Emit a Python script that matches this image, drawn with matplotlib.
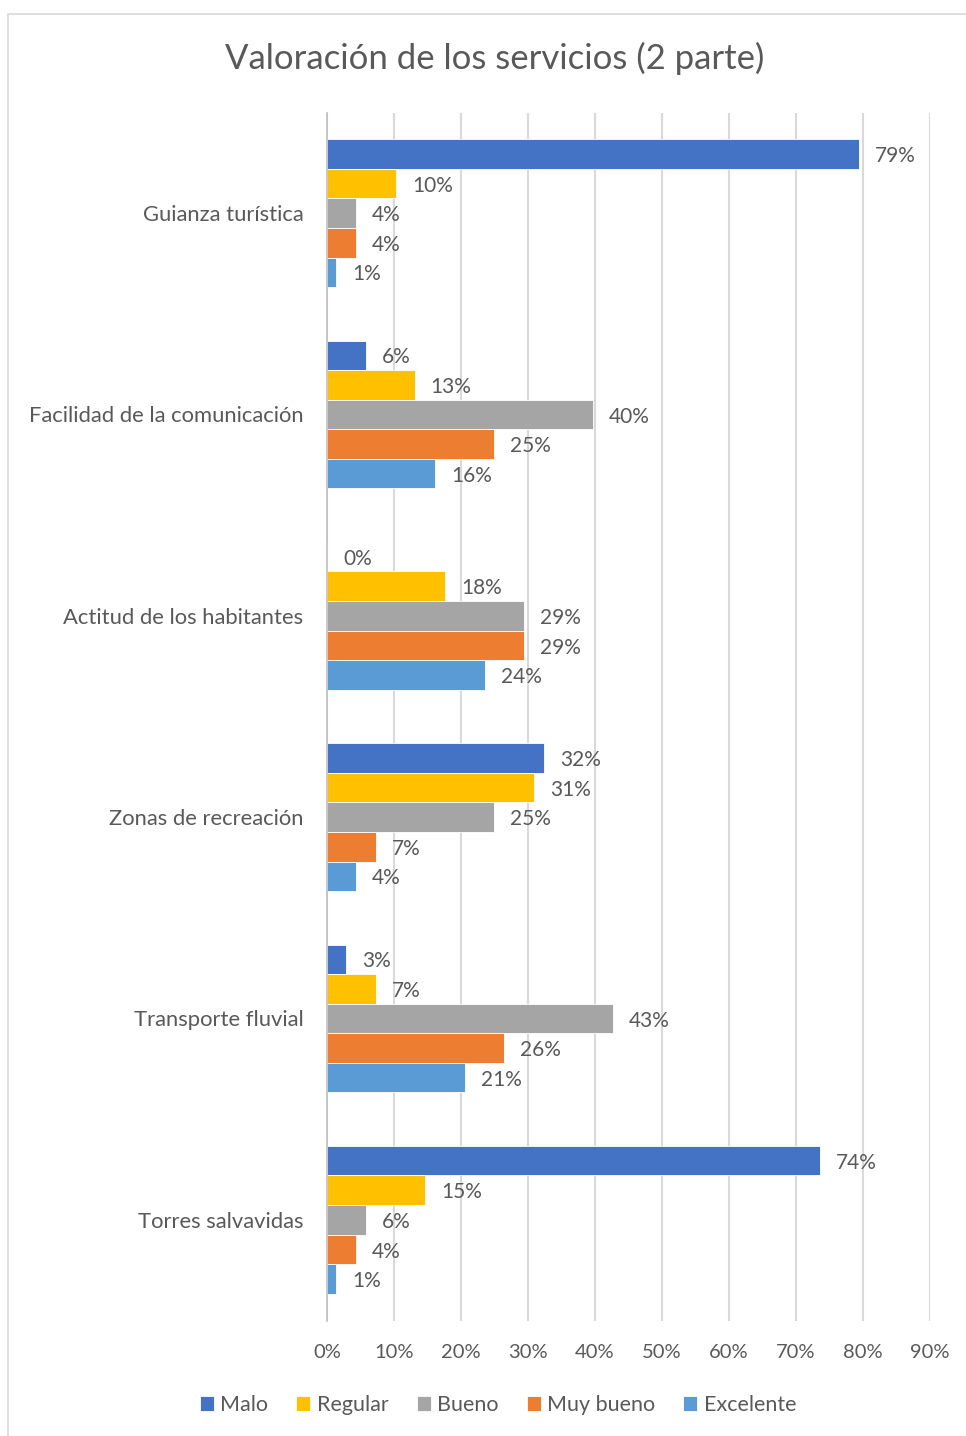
import numpy as np
import matplotlib.pyplot as plt
from matplotlib.patches import Rectangle

# datos (porcentajes)
categorias = ["Guianza turística", "Facilidad de la comunicación", "Actitud de los habitantes",
              "Zonas de recreación", "Transporte fluvial", "Torres salvavidas"]
series = ["Malo", "Regular", "Bueno", "Muy bueno", "Excelente"]
malo = [79.4, 5.8, 0.0, 32.4, 2.8, 73.6]
regular = [10.3, 13.1, 17.6, 30.9, 7.3, 14.6]
bueno = [4.3, 39.7, 29.4, 24.9, 42.7, 5.8]
muy_bueno = [4.3, 24.9, 29.4, 7.3, 26.4, 4.3]
excelente = [1.4, 16.1, 23.6, 4.3, 20.6, 1.4]
colores = ["#4472C4", "#FFC000", "#A5A5A5", "#ED7D31", "#5B9BD5"]

plt.rcParams['font.family'] = ['Lato', 'DejaVu Sans']
texto = "#595959"

fig = plt.figure(figsize=(9.66, 14.36), dpi=100)
ax = fig.add_axes([327 / 966, 1 - 1320.5 / 1436, 603 / 966, 1208 / 1436])

# borde del grafico
fig.patches.append(Rectangle((8 / 966, -0.1), 1.2, 1 - 14 / 1436 + 0.1, transform=fig.transFigure,
                             fill=False, edgecolor="#D9D9D9", linewidth=1.2))

y = np.arange(len(categorias))
alto = 0.147
datos = [malo, regular, bueno, muy_bueno, excelente]
for i, (nombre, vals) in enumerate(zip(series, datos)):
    pos = y + (i - 2) * alto
    barras = ax.barh(pos, vals, height=alto, color=colores[i], label=nombre,
                     edgecolor="white", linewidth=0.6, zorder=3)
    for b, v in zip(barras, vals):
        ax.annotate(f"{v:.0f}%", (v, b.get_y() + b.get_height() / 2), xytext=(11.5, -1.5),
                    textcoords="offset points", va="center", ha="left",
                    fontsize=15, color=texto)

ax.set_ylim(len(categorias) - 0.5, -0.5)
ax.set_xlim(0, 90)
ax.set_xticks(np.arange(0, 91, 10))
ax.set_xticklabels([f"{t}%" for t in range(0, 91, 10)])
ax.set_yticks(y)
ax.set_yticklabels(categorias)
ax.tick_params(axis="x", length=0, pad=17, labelsize=14.5, labelcolor=texto)
ax.tick_params(axis="y", length=0, pad=17, labelsize=15.8, labelcolor=texto)
ax.grid(axis="x", color="#D9D9D9", linewidth=1.5, zorder=0)
for s in ["top", "right", "bottom"]:
    ax.spines[s].set_visible(False)
ax.spines["left"].set_color("#BFBFBF")
ax.spines["left"].set_linewidth(1.2)
ax.spines["left"].set_zorder(4)

fig.text(494.5 / 966, 1 - 58 / 1436, "Valoración de los servicios (2 parte)", ha="center",
         va="center", fontsize=25, color=texto)

fig.legend(loc="center", bbox_to_anchor=(498 / 966, 1 - 1405 / 1436), ncol=5, frameon=False,
           fontsize=15.5, labelcolor=texto, handlelength=0.65, handleheight=0.65,
           handletextpad=0.3, columnspacing=1.3)

fig.savefig("out.png", dpi=100)
